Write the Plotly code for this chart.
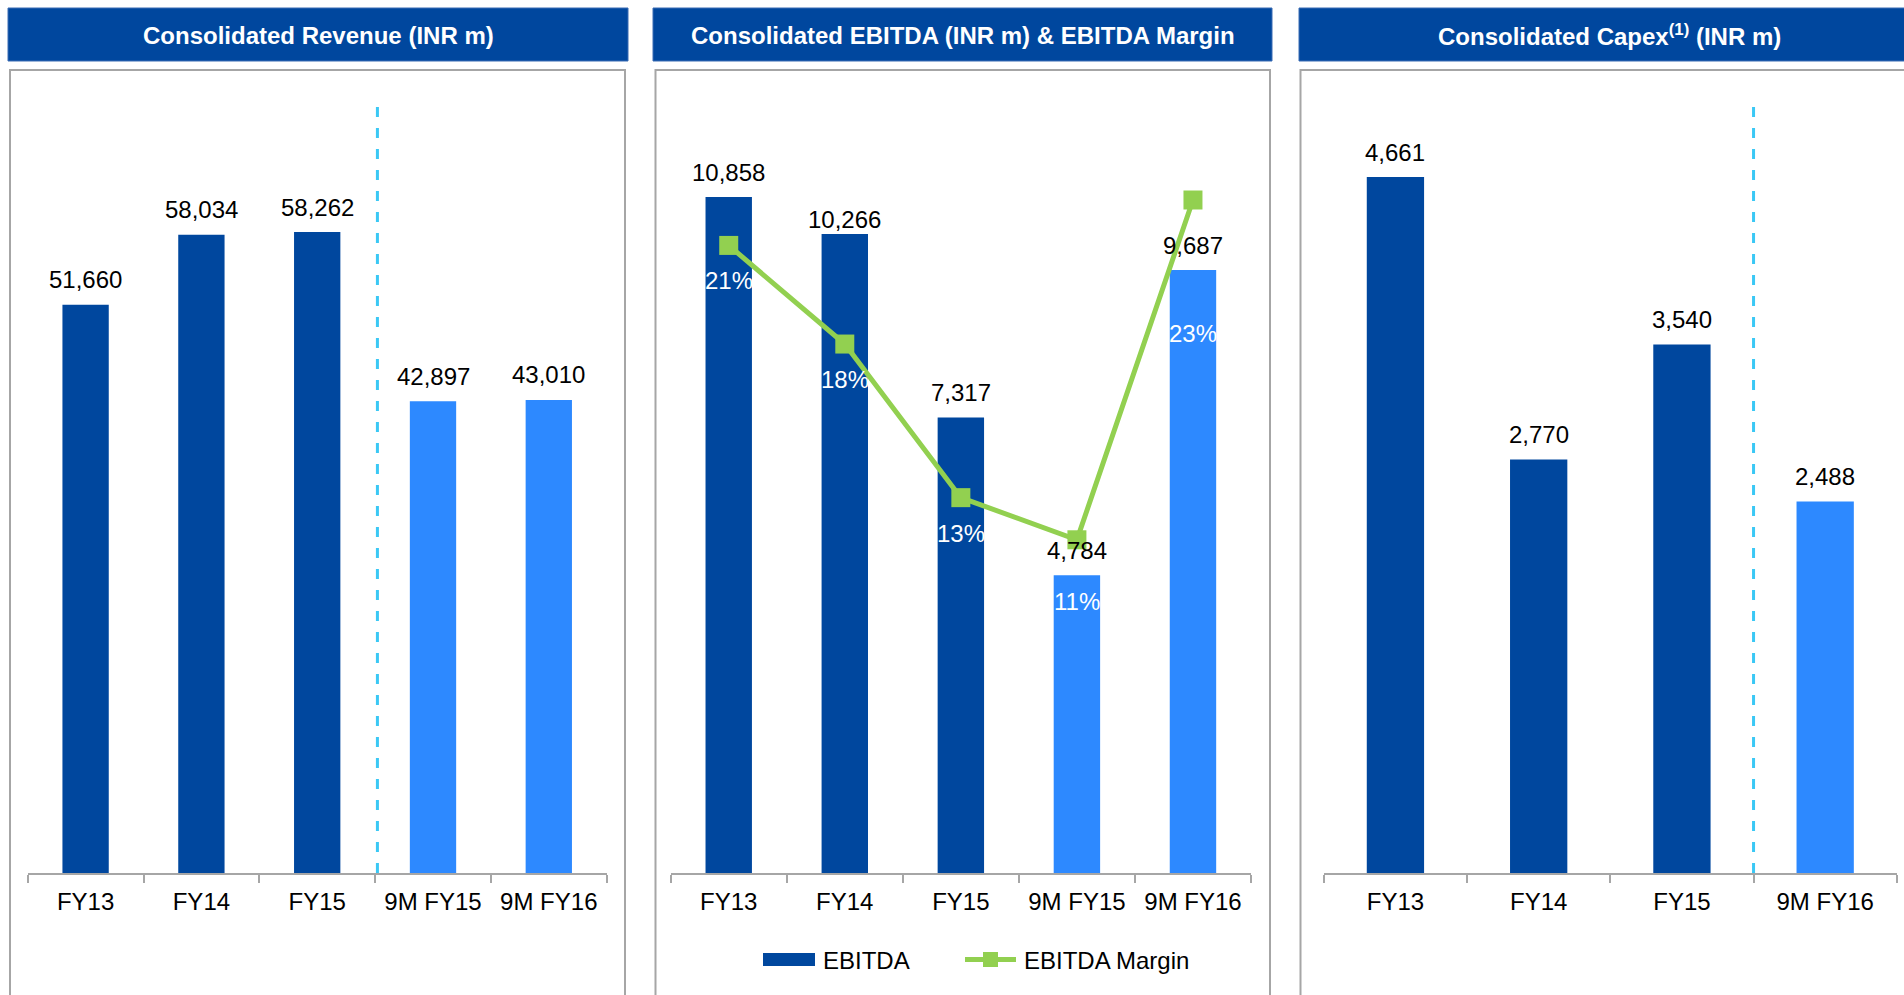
import plotly.graph_objects as go

# ---------------- data ----------------
rev_cats = ["FY13", "FY14", "FY15", "9M FY15", "9M FY16"]
rev_vals = [51660, 58034, 58262, 42897, 43010]

ebitda_cats = ["FY13", "FY14", "FY15", "9M FY15", "9M FY16"]
ebitda_vals = [10858, 10266, 7317, 4784, 9687]
margin_vals = [0.210, 0.177, 0.1256, 0.1115, 0.2252]
margin_text = ["21%", "18%", "13%", "11%", "23%"]

capex_cats = ["FY13", "FY14", "FY15", "9M FY16"]
capex_vals = [4661, 2770, 3540, 2488]

titles = ["Consolidated Revenue (INR m)",
          "Consolidated EBITDA (INR m) & EBITDA Margin",
          "Consolidated Capex<sup>(1)</sup> (INR m)"]

# ---------------- style ----------------
W, H = 1904, 995
DARK = "#00479E"
LIGHT = "#2D89FF"
GREEN = "#92D050"
GRAY = "#A6A6A6"
CYAN = "#3AC8F5"
FONT = "Arial, Liberation Sans, sans-serif"

def px(x):
    return x / W

def py(y):
    return 1 - y / H

def colors(cats):
    return [LIGHT if c.startswith("9M") else DARK for c in cats]

# pixel geometry of panels
x_dom = [(27.7, 606.7), (670.7, 1251.0), (1323.8, 1896.8)]
y_top, y_base = 70, 873
y_dom = [py(y_base), py(y_top)]
title_boxes = [(8, 628), (653, 1272), (1299, 1919)]
title_cx = [318, 962.5, 1609]
border_boxes = [(10, 625), (655.5, 1270), (1300.5, 1930)]
# label offsets (px)
margin_label_shift = [-35.5, -35, -36, -62, -133]
ebitda_label_shift = [25, 14, 25, 25, 25]

fig = go.Figure()

fig.add_trace(go.Bar(x=rev_cats, y=rev_vals, marker_color=colors(rev_cats),
                     marker_line_width=0, xaxis="x", yaxis="y", showlegend=False,
                     hoverinfo="skip"))
fig.add_trace(go.Bar(x=ebitda_cats, y=ebitda_vals, marker_color=colors(ebitda_cats),
                     marker_line_width=0, xaxis="x2", yaxis="y2", showlegend=False,
                     name="EBITDA", hoverinfo="skip"))
fig.add_trace(go.Scatter(x=ebitda_cats, y=margin_vals, mode="lines+markers",
                         line=dict(color=GREEN, width=5),
                         marker=dict(symbol="square", size=19, color=GREEN),
                         xaxis="x2", yaxis="y3", showlegend=False,
                         name="EBITDA Margin", hoverinfo="skip", cliponaxis=False))
fig.add_trace(go.Bar(x=capex_cats, y=capex_vals, marker_color=colors(capex_cats),
                     marker_line_width=0, xaxis="x3", yaxis="y4", showlegend=False,
                     hoverinfo="skip"))

xaxis_common = dict(showline=True, linecolor=GRAY, linewidth=2, ticks="outside",
                    ticklen=8, tickwidth=2, tickcolor=GRAY, tickson="boundaries",
                    ticklabelstandoff=6,
                    showgrid=False, zeroline=False, type="category",
                    tickfont=dict(family=FONT, size=24, color="#000000"),
                    fixedrange=True)
yaxis_common = dict(visible=False, showgrid=False, zeroline=False, fixedrange=True,
                    domain=y_dom)

fig.update_layout(
    width=W, height=H, margin=dict(l=0, r=0, t=0, b=0),
    paper_bgcolor="white", plot_bgcolor="rgba(0,0,0,0)",
    bargap=0.6, showlegend=False,
    font=dict(family=FONT, size=24, color="#000000"),
    xaxis=dict(domain=[px(x_dom[0][0]), px(x_dom[0][1])], anchor="y",
               range=[-0.5, len(rev_cats) - 0.5], **xaxis_common),
    xaxis2=dict(domain=[px(x_dom[1][0]), px(x_dom[1][1])], anchor="y2",
                range=[-0.5, len(ebitda_cats) - 0.5], **xaxis_common),
    xaxis3=dict(domain=[px(x_dom[2][0]), px(x_dom[2][1])], anchor="y4",
                range=[-0.5, len(capex_cats) - 0.5], **xaxis_common),
    yaxis=dict(anchor="x", range=[0, 73000], **yaxis_common),
    yaxis2=dict(anchor="x2", range=[0, 12900], **yaxis_common),
    yaxis3=dict(anchor="x2", overlaying="y2", side="right", range=[0, 0.2687],
                **yaxis_common),
    yaxis4=dict(anchor="x3", range=[0, 5378], **yaxis_common),
)

shapes = []
annotations = []

# title boxes and panel borders
for i in range(3):
    x0, x1 = title_boxes[i]
    shapes.append(dict(type="rect", xref="paper", yref="paper",
                       x0=px(x0), x1=px(x1), y0=py(61), y1=py(8),
                       fillcolor=DARK, line=dict(color="#3B6CB4", width=1),
                       layer="below"))
    b0, b1 = border_boxes[i]
    shapes.append(dict(type="rect", xref="paper", yref="paper",
                       x0=px(b0), x1=px(b1), y0=py(1040), y1=py(70),
                       fillcolor="rgba(0,0,0,0)", line=dict(color=GRAY, width=2),
                       layer="below"))
    annotations.append(dict(xref="paper", yref="paper", x=px(title_cx[i]), y=py(35),
                            text="<b>" + titles[i] + "</b>", showarrow=False,
                            xanchor="center", yanchor="middle",
                            font=dict(family=FONT, size=24, color="white")))

# dashed separators
shapes.append(dict(type="line", xref="x", yref="paper", x0=2.52, x1=2.52,
                   y0=py(y_base), y1=py(103), line=dict(color=CYAN, width=3, dash="10px,11px")))
shapes.append(dict(type="line", xref="x3", yref="paper", x0=2.5, x1=2.5,
                   y0=py(y_base), y1=py(105), line=dict(color=CYAN, width=3, dash="10px,11px")))

def bar_labels(cats, vals, xr, yr, shifts=None):
    if shifts is None:
        shifts = [25] * len(vals)
    for c, v, s in zip(cats, vals, shifts):
        annotations.append(dict(xref=xr, yref=yr, x=c, y=v, text=f"{v:,}",
                                showarrow=False, xanchor="center", yanchor="middle",
                                yshift=s, font=dict(family=FONT, size=24, color="#000000")))

bar_labels(rev_cats, rev_vals, "x", "y")
bar_labels(ebitda_cats, ebitda_vals, "x2", "y2", ebitda_label_shift)
bar_labels(capex_cats, capex_vals, "x3", "y4")

for c, v, t, s in zip(ebitda_cats, margin_vals, margin_text, margin_label_shift):
    annotations.append(dict(xref="x2", yref="y3", x=c, y=v, text=t, showarrow=False,
                            xanchor="center", yanchor="middle", yshift=s,
                            font=dict(family=FONT, size=24, color="white")))

# custom legend
shapes.append(dict(type="rect", xref="paper", yref="paper", x0=px(763), x1=px(815),
                   y0=py(966), y1=py(953), fillcolor=DARK, line=dict(width=0)))
annotations.append(dict(xref="paper", yref="paper", x=px(821), y=py(960), text="EBITDA",
                        showarrow=False, xanchor="left", yanchor="middle",
                        font=dict(family=FONT, size=24, color="#000000")))
shapes.append(dict(type="line", xref="paper", yref="paper", x0=px(965), x1=px(1016),
                   y0=py(959.5), y1=py(959.5), line=dict(color=GREEN, width=5)))
shapes.append(dict(type="rect", xref="paper", yref="paper", x0=px(983), x1=px(998),
                   y0=py(967), y1=py(952), fillcolor=GREEN, line=dict(width=0)))
annotations.append(dict(xref="paper", yref="paper", x=px(1022), y=py(960),
                        text="EBITDA Margin", showarrow=False, xanchor="left",
                        yanchor="middle", font=dict(family=FONT, size=24, color="#000000")))

fig.update_layout(shapes=shapes, annotations=annotations)
fig.write_html("out.html", config={"displayModeBar": False},
               post_script="document.body.style.margin='0';document.body.style.overflow='hidden';")
